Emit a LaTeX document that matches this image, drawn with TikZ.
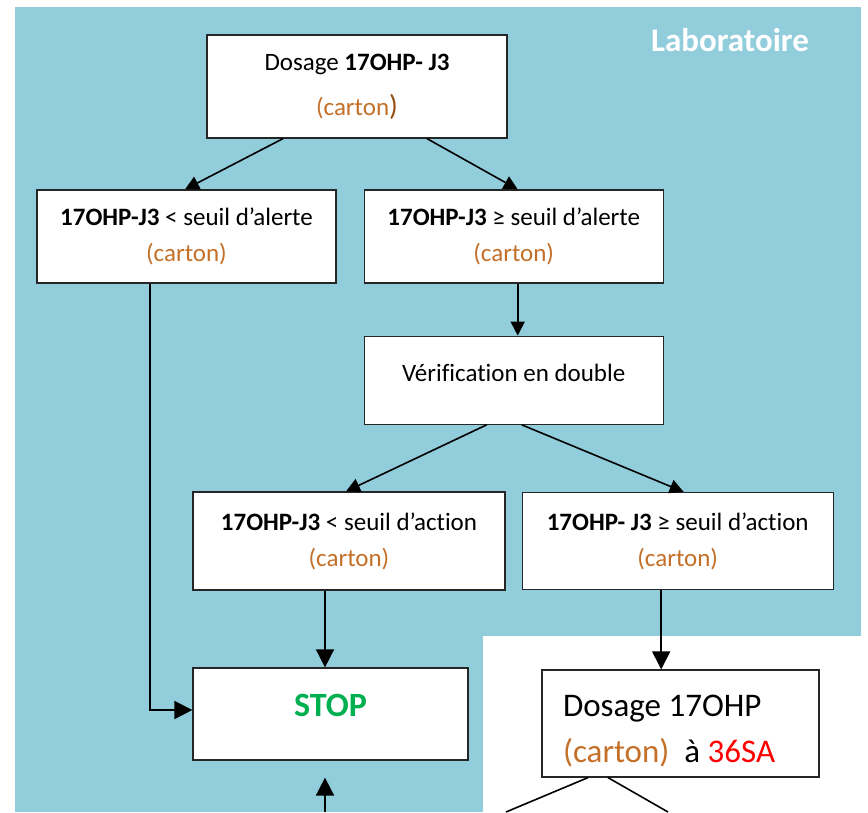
\documentclass[tikz,border=0pt]{standalone}
\usepackage{fontspec}
\setmainfont{Carlito}[Ligatures={NoCommon,NoRare,NoDiscretionary}]
\usetikzlibrary{arrows.meta,positioning}

\definecolor{labo}{RGB}{146,205,220}
\definecolor{carton}{RGB}{196,112,40}
\definecolor{cartonfonce}{RGB}{150,80,20}
\definecolor{vert}{RGB}{0,176,80}
\definecolor{rouge}{RGB}{255,0,0}

\newcommand{\normaltxt}{\fontsize{25}{36}\selectfont}
\newcommand{\grandtxt}{\fontsize{33}{46}\selectfont}
\newcommand{\carton}{\textcolor{carton}{(carton)}}

\tikzset{
  boite/.style={draw=black!85,line width=1.2pt,fill=white,align=center,
    inner sep=0pt,font=\normaltxt},
  fleche/.style={line width=1.6pt,-{Triangle[length=14pt,width=14pt]}},
  grandefleche/.style={line width=1.6pt,-{Triangle[length=18pt,width=18pt]}},
  trait/.style={line width=1.6pt}
}

\begin{document}
\begin{tikzpicture}[x=1pt,y=-1pt]
    \useasboundingbox (0,0) rectangle (868,812);
    \fill[labo] (15,7) rectangle (861,812);
    \fill[white] (483,636) rectangle (868,812);
    \node[font=\fontsize{33}{36}\selectfont\bfseries,text=white] (titre)
    at (730,40) {Laboratoire};

    \node[boite,minimum width=300pt,minimum height=103pt] (dosage)
    at (357,86.5) {Dosage \textbf{17OHP- J3}\\[9pt]
      \textcolor{carton}{(carton}{\color{cartonfonce}\fontsize{29}{36}\selectfont)}};
    \node[boite,minimum width=299pt,minimum height=93pt] (alerteA)
    at (186.5,236.5) {\textbf{17OHP-J3} < seuil d’alerte\\ \carton};
    \node[boite,minimum width=299pt,minimum height=93pt] (alerteB)
    [right=27pt of alerteA] {\textbf{17OHP-J3} ≥ seuil d’alerte\\ \carton};
    \node[boite,minimum width=299pt,minimum height=88pt] (verif)
    [below=52pt of alerteB] {\raisebox{-1pt}[0pt][0pt]{Vérification en double}};
    \node[boite,minimum width=312pt,minimum height=98pt] (actionA)
    at (349,541) {\textbf{17OHP-J3} < seuil d’action\\ \carton};
    \node[boite,minimum width=311pt,minimum height=97pt] (actionB)
    [right=16pt of actionA] {\textbf{17OHP- J3} ≥ seuil d’action\\ \carton};
    \node[boite,minimum width=275pt,minimum height=92pt,
      font=\fontsize{34}{40}\selectfont\bfseries,text=vert] (stop)
    at (330.5,714) {\raisebox{-2pt}[0pt][0pt]{STOP}};
    \node[boite,minimum width=277pt,minimum height=107pt,font=\grandtxt] (dosage36)
    at (680.5,723.5) {\raisebox{-14pt}[0pt][0pt]{\parbox{235pt}{Dosage 17OHP\\
      \carton\ \ à \textcolor{rouge}{36SA}}}};

    \draw[fleche] ([xshift=-74pt]dosage.south) -- ([xshift=-1.5pt]alerteA.north);
    \draw[fleche] ([xshift=70pt]dosage.south) -- ([xshift=4pt]alerteB.north);
    \draw[fleche] ([xshift=4pt]alerteB.south) -- ([xshift=4pt]verif.north);
    \draw[fleche] ([xshift=-27pt]verif.south) -- ([xshift=-3pt]actionA.north);
    \draw[fleche] ([xshift=8pt]verif.south) -- ([xshift=6pt]actionB.north);
    \draw[grandefleche] ([xshift=-36.5pt]alerteA.south) |- ([yshift=4pt]stop.west);
    \draw[grandefleche] ([xshift=-24pt]actionA.south)
    -- ([xshift=-24pt]actionA.south |- stop.north);
    \draw[grandefleche] ([xshift=-16.5pt]actionB.south)
    -- ([xshift=-16.5pt]actionB.south |- dosage36.north);

    \coordinate (suiteStop) at (325,812);
    \draw[grandefleche,shorten >=17pt] (suiteStop) -- (suiteStop |- stop.south);
    \coordinate (versA) at (506,812);
    \coordinate (versB) at (668,812);
    \draw[trait] ([xshift=-92.5pt]dosage36.south) -- (versA);
    \draw[trait] ([xshift=-72.5pt]dosage36.south) -- (versB);
  \end{tikzpicture}
\end{document}
